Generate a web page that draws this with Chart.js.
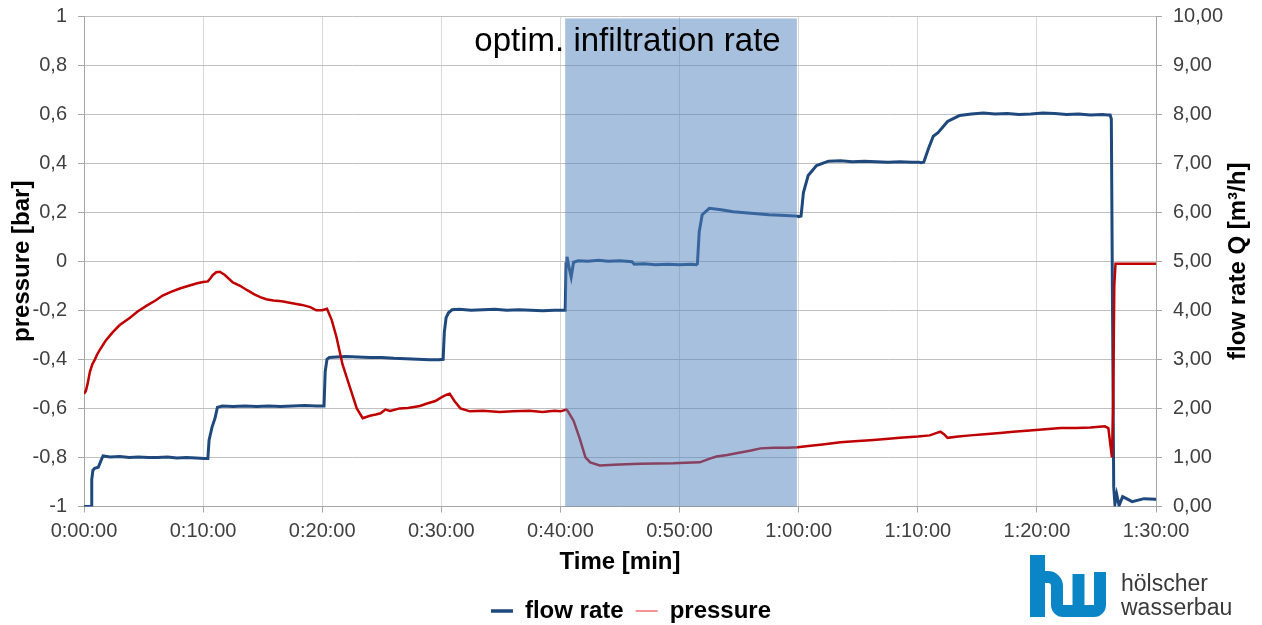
<!DOCTYPE html>
<html>
<head>
<meta charset="utf-8">
<script src="https://cdn.jsdelivr.net/npm/chart.js@4/dist/chart.umd.min.js"></script>
<style>
  html, body { margin: 0; padding: 0; background: #fff; }
  #wrap { width: 1262px; height: 625px; }
</style>
</head>
<body>
<div id="wrap"><canvas id="c" width="1262" height="625"></canvas></div>
<script>
// ---- data (time in minutes) ----
const flowTime = [0, 0.6, 0.65, 0.75, 0.9, 1.2, 1.45, 1.6, 2.2, 3.0, 3.8, 4.6, 5.4, 6.2, 7.0, 7.8, 8.6, 9.4, 10.1, 10.4, 10.5, 10.75, 11.0, 11.2, 11.6, 12.5, 13.5, 14.5, 15.5, 16.5, 17.5, 18.5, 19.5, 20.15, 20.25, 20.4, 20.6, 21.2, 22.0, 23.0, 24.0, 25.0, 26.0, 27.0, 28.0, 29.0, 29.8, 30.15, 30.25, 30.4, 30.6, 30.9, 31.5, 32.5, 33.5, 34.5, 35.5, 36.5, 37.5, 38.5, 39.5, 40.4, 40.47, 40.55, 40.7, 40.9, 41.1, 41.5, 42.3, 43.2, 44.0, 45.0, 46.0, 46.2, 47.0, 48.0, 49.0, 50.0, 51.0, 51.4, 51.5, 51.65, 51.9, 52.5, 53.5, 54.5, 55.5, 56.5, 57.5, 58.5, 59.3, 59.9, 60.0, 60.2, 60.4, 60.8, 61.5, 62.5, 63.5, 64.5, 65.5, 66.5, 67.5, 68.5, 69.5, 70.1, 70.25, 70.5, 70.9, 71.3, 71.7, 72.5, 73.5, 74.5, 75.5, 76.5, 77.5, 78.5, 79.5, 80.5, 81.5, 82.5, 83.5, 84.5, 85.5, 85.95, 86.05, 86.15, 86.25, 86.35, 86.45, 86.55, 86.7, 86.9, 87.2, 88.0, 89.0, 89.95, 90.0];
const flowRate = [0, 0, 0.55, 0.74, 0.78, 0.8, 0.95, 1.03, 1.01, 1.02, 1.0, 1.01, 1.0, 1.0, 1.01, 0.99, 1.0, 0.99, 0.98, 0.98, 1.35, 1.62, 1.8, 2.02, 2.05, 2.04, 2.05, 2.04, 2.05, 2.04, 2.05, 2.06, 2.05, 2.05, 2.75, 3.0, 3.04, 3.05, 3.06, 3.05, 3.04, 3.04, 3.02, 3.01, 3.0, 2.99, 2.99, 3.0, 3.55, 3.85, 3.95, 4.01, 4.02, 4.0, 4.01, 4.02, 4.0, 4.01, 4.0, 3.99, 4.0, 4.0, 4.95, 5.09, 4.9, 4.68, 4.98, 5.01, 5.0, 5.02, 5.0, 5.01, 4.99, 4.94, 4.95, 4.93, 4.94, 4.93, 4.94, 4.93, 4.95, 5.6, 5.95, 6.08, 6.05, 6.01, 5.99, 5.97, 5.95, 5.94, 5.93, 5.92, 5.91, 5.92, 6.4, 6.75, 6.95, 7.04, 7.05, 7.03, 7.04, 7.03, 7.02, 7.03, 7.02, 7.02, 7.01, 7.02, 7.3, 7.55, 7.62, 7.85, 7.97, 8.0, 8.02, 8.0, 8.01, 7.99, 8.0, 8.02, 8.01, 7.99, 8.0, 7.98, 7.99, 7.98, 7.98, 7.98, 7.9, 4.0, 0.4, 0.05, 0.25, 0.02, 0.2, 0.1, 0.16, 0.15, 0.15, 0.15, 0.15, 0.0];

const pressTime = [0.0, 0.15, 0.3, 0.5, 0.7, 0.92, 1.1, 1.34, 1.8, 2.4, 3.0, 3.86, 4.5, 5.3, 6.0, 6.6, 7.3, 8.1, 8.8, 9.5, 10.0, 10.4, 10.6, 10.8, 11.1, 11.4, 11.8, 12.5, 13.1, 13.7, 14.3, 14.8, 15.3, 15.9, 16.6, 17.6, 18.3, 19.0, 19.5, 20.0, 20.4, 20.8, 21.2, 21.7, 22.3, 22.9, 23.4, 23.7, 24.0, 24.5, 24.9, 25.3, 25.7, 26.5, 27.2, 28.2, 28.8, 29.5, 30.0, 30.4, 30.7, 31.1, 31.6, 32.4, 33.5, 34.9, 36.0, 37.4, 38.5, 39.5, 40.0, 40.5, 40.6, 41.1, 41.6, 42.1, 42.5, 43.3, 44.5, 45.5, 46.7, 48.0, 49.5, 50.5, 51.7, 52.6, 53.1, 54.0, 55.1, 56.0, 56.8, 57.9, 59.0, 59.9, 61.0, 62.0, 63.5, 65.0, 66.0, 67.3, 68.5, 70.0, 71.0, 71.6, 71.9, 72.2, 72.5, 73.4, 74.4, 75.6, 76.9, 78.0, 79.4, 80.7, 82.0, 83.3, 84.5, 85.7, 86.0, 86.2, 86.3, 86.4, 86.5, 86.6, 88.0, 90.0];
const pressure = [-0.54, -0.53, -0.5, -0.45, -0.42, -0.4, -0.38, -0.36, -0.325, -0.29, -0.26, -0.23, -0.205, -0.18, -0.16, -0.14, -0.125, -0.11, -0.1, -0.09, -0.085, -0.082, -0.07, -0.057, -0.045, -0.043, -0.055, -0.086, -0.1, -0.118, -0.135, -0.146, -0.155, -0.16, -0.163, -0.172, -0.178, -0.187, -0.2, -0.2, -0.194, -0.24, -0.31, -0.42, -0.51, -0.6, -0.64, -0.635, -0.63, -0.625, -0.62, -0.605, -0.61, -0.6, -0.598, -0.59, -0.58, -0.57, -0.555, -0.545, -0.54, -0.57, -0.6, -0.612, -0.61, -0.615, -0.612, -0.61, -0.615, -0.61, -0.612, -0.605, -0.61, -0.65, -0.72, -0.8, -0.82, -0.833, -0.83, -0.828, -0.826, -0.825, -0.824, -0.822, -0.82, -0.804, -0.796, -0.79, -0.78, -0.772, -0.763, -0.76, -0.76, -0.758, -0.752, -0.747, -0.738, -0.733, -0.73, -0.725, -0.72, -0.715, -0.71, -0.7, -0.695, -0.705, -0.72, -0.715, -0.71, -0.705, -0.7, -0.695, -0.69, -0.685, -0.68, -0.68, -0.678, -0.673, -0.68, -0.76, -0.8, -0.6, -0.1, -0.01, -0.01, -0.01];

const seriesNames = ['flow rate', 'pressure'];
const rightTitle = 'flow rate Q [m³/h]';
const shadeStart = 40.4, shadeEnd = 59.85, shadeTop = 0.99;
const noteText = 'optim. infiltration rate';
const noteX = 45.63, noteY = 0.856;

const FONT = '"Liberation Sans", Arial, sans-serif';

function fmtTime(v) {
  const h = Math.floor(v / 60), m = Math.round(v % 60);
  return h + ':' + String(m).padStart(2, '0') + ':00';
}

const overlay = {
  id: 'overlay',
  afterDatasetsDraw(chart) {
    const { ctx, scales: { x, yP } } = chart;
    const x0 = x.getPixelForValue(shadeStart), x1 = x.getPixelForValue(shadeEnd);
    const y0 = yP.getPixelForValue(shadeTop), y1 = yP.getPixelForValue(-1);
    ctx.save();
    ctx.fillStyle = 'rgba(79,129,189,0.5)';
    ctx.fillRect(x0, y0, x1 - x0, y1 - y0);
    ctx.font = '33px ' + FONT;
    ctx.fillStyle = '#000';
    ctx.textAlign = 'center';
    ctx.textBaseline = 'alphabetic';
    ctx.fillText(noteText, x.getPixelForValue(noteX), yP.getPixelForValue(noteY));
    ctx.restore();
  },
  afterDraw(chart) {
    const ctx = chart.ctx;
    const yQ = chart.scales.yQ;
    ctx.save();
    ctx.translate(yQ.right - 24, (chart.chartArea.top + chart.chartArea.bottom) / 2);
    ctx.rotate(-Math.PI / 2);
    ctx.font = 'bold 24px ' + FONT;
    ctx.fillStyle = '#000';
    ctx.textAlign = 'center';
    ctx.textBaseline = 'middle';
    ctx.fillText(rightTitle, 0, 0);
    ctx.restore();

    ctx.save();
    ctx.strokeStyle = '#0a86c6';
    ctx.fillStyle = '#0a86c6';
    ctx.fillRect(1030, 555, 15, 62);
    ctx.lineWidth = 12;
    ctx.lineJoin = 'round';
    ctx.lineCap = 'butt';
    ctx.beginPath();
    ctx.moveTo(1040, 577);
    ctx.arcTo(1057, 577, 1057, 611, 9);
    ctx.arcTo(1057, 611, 1100, 611, 6);
    ctx.arcTo(1100, 611, 1100, 572, 6);
    ctx.lineTo(1100, 572);
    ctx.stroke();
    ctx.beginPath();
    ctx.moveTo(1078.5, 574);
    ctx.lineTo(1078.5, 611);
    ctx.stroke();
    ctx.fillStyle = '#3a3a3a';
    ctx.font = '23px ' + FONT;
    ctx.textAlign = 'left';
    ctx.textBaseline = 'alphabetic';
    ctx.fillText('hölscher', 1121, 591);
    ctx.fillText('wasserbau', 1121, 615);
    ctx.restore();
  }
};

const flowData = flowTime.map((t, i) => ({ x: t, y: flowRate[i] }));
const pressData = pressTime.map((t, i) => ({ x: t, y: pressure[i] }));
const legendStroke = ['#1f497d', '#f07070'];
const legendWidth = [3.5, 1.5];

function fitV(w) {
  return function (s) { s.width = w; s.paddingTop = 0; s.paddingBottom = 0; };
}

new Chart(document.getElementById('c'), {
  type: 'line',
  data: {
    datasets: [
      { label: seriesNames[0], data: flowData, yAxisID: 'yQ', borderColor: '#1f497d', borderWidth: 3, pointRadius: 0, tension: 0, order: 1 },
      { label: seriesNames[1], data: pressData, yAxisID: 'yP', borderColor: '#c00000', borderWidth: 2.5, pointRadius: 0, tension: 0, order: 0 }
    ]
  },
  options: {
    responsive: false,
    animation: false,
    devicePixelRatio: 1,
    layout: { padding: { top: 16, left: 0, right: 0, bottom: -8 } },
    plugins: {
      tooltip: { enabled: false },
      legend: {
        position: 'bottom',
        labels: {
          font: { family: FONT, size: 24, weight: 'bold' },
          color: '#000',
          usePointStyle: true,
          pointStyleWidth: 22,
          padding: 12,
          sort: (a, b) => a.datasetIndex - b.datasetIndex,
          generateLabels(chart) {
            const items = Chart.defaults.plugins.legend.labels.generateLabels(chart);
            items.forEach(it => {
              it.pointStyle = 'line';
              it.lineWidth = legendWidth[it.datasetIndex];
              it.strokeStyle = legendStroke[it.datasetIndex];
            });
            return items;
          }
        }
      }
    },
    scales: {
      x: {
        type: 'linear',
        position: 'bottom',
        min: 0, max: 90,
        afterFit(s) { s.height = 80.5; s.paddingLeft = 0; s.paddingRight = 0; },
        ticks: { stepSize: 10, autoSkip: false, maxRotation: 0, padding: 7, color: '#404040', font: { family: FONT, size: 20 }, callback: v => fmtTime(v) },
        grid: { color: '#d9d9d9', tickColor: '#a6a6a6', tickLength: 6 },
        border: { color: '#a6a6a6' },
        title: { display: true, text: 'Time [min]', color: '#000', font: { family: FONT, size: 24, weight: 'bold' }, padding: { top: 0, bottom: 10 } }
      },
      yP: {
        type: 'linear',
        position: 'left',
        min: -1, max: 1,
        afterFit: fitV(84),
        ticks: { stepSize: 0.2, padding: 11, color: '#404040', font: { family: FONT, size: 20 }, callback: v => String(Math.round(v * 10) / 10).replace('.', ',') },
        grid: { color: '#c0c0c0', tickColor: '#a6a6a6', tickLength: 6 },
        border: { color: '#a6a6a6' },
        title: { display: true, text: 'pressure [bar]', color: '#000', font: { family: FONT, size: 24, weight: 'bold' }, padding: { top: 8, bottom: 0 } }
      },
      yQ: {
        type: 'linear',
        position: 'right',
        min: 0, max: 10,
        afterFit: fitV(106),
        ticks: { stepSize: 1, padding: 11, color: '#404040', font: { family: FONT, size: 20 }, callback: v => v.toFixed(2).replace('.', ',') },
        grid: { drawOnChartArea: false, tickColor: '#a6a6a6', tickLength: 6 },
        border: { color: '#a6a6a6' },
        title: { display: false }
      }
    }
  },
  plugins: [overlay]
});
</script>
</body>
</html>
